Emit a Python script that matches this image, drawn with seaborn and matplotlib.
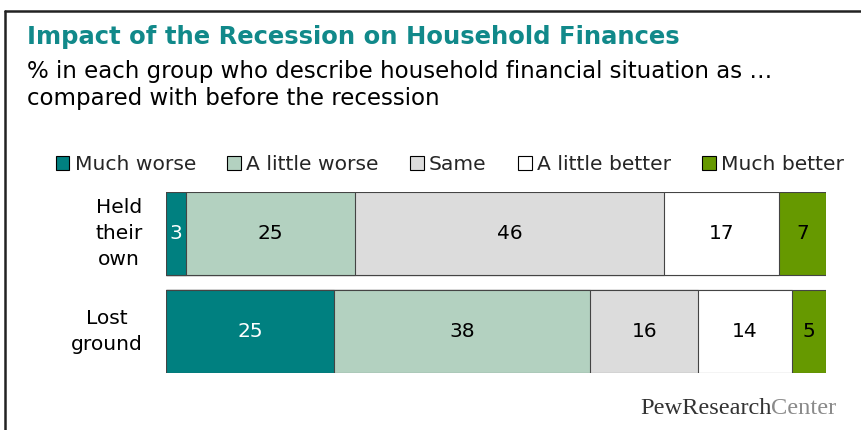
import matplotlib
matplotlib.use("Agg")
import matplotlib.pyplot as plt
from matplotlib.patches import Patch
from matplotlib.lines import Line2D
import seaborn as sns
import pandas as pd
import numpy as np

# Survey results (% of each group)
groups = ["Held\ntheir\nown", "Lost\nground"]
categories = ["Much worse", "A little worse", "Same", "A little better", "Much better"]
held_their_own = [3, 25, 46, 17, 7]
lost_ground = [25, 38, 16, 14, 5]
colors = ["#008080", "#B3D1C0", "#DCDCDC", "#FFFFFF", "#669900"]
label_colors = ["white", "black", "black", "black", "black"]

sns.set_theme(style="white")
plt.rcParams["font.family"] = ["DejaVu Sans"]

W, H = 862, 430
fig = plt.figure(figsize=(W / 100, H / 100), dpi=100)
ax = fig.add_axes([166 / W, 1 - 373 / H, 660 / W, 181 / H])

values = np.array([held_their_own, lost_ground])
cum = values.cumsum(axis=1)

# Stacked bars: draw cumulative totals from the longest down so each segment shows
for i in reversed(range(len(categories))):
    df = pd.DataFrame({"group": groups, "value": cum[:, i]})
    sns.barplot(data=df, x="value", y="group", orient="h", color=colors[i],
                saturation=1, width=0.84, edgecolor="#444444", linewidth=0.8,
                ax=ax)

for g in range(len(groups)):
    for i in range(len(categories)):
        start = cum[g, i] - values[g, i]
        ax.text(start + values[g, i] / 2, g, str(values[g, i]),
                ha="center", va="center", fontsize=14.5,
                color=label_colors[i])

ax.set_xlim(0, cum[0, -1])
ax.set_ylim(1.42, -0.42)
ax.set_xlabel("")
ax.set_ylabel("")
ax.set_xticks([])
ax.set_yticks(range(len(groups)))
ax.set_yticklabels([])
ax.tick_params(axis="y", length=0)
for s in ax.spines.values():
    s.set_visible(False)

# Group labels, centred line by line, right edge just left of the bars
for g, name in enumerate(groups):
    ax.text(-23 / 660, g, name, transform=ax.get_yaxis_transform(),
            ha="right", va="center", multialignment="center",
            fontsize=14.6, linespacing=1.45, color="black")

# Legend
handles = [Patch(facecolor=c, edgecolor="black", linewidth=0.8) for c in colors]
fig.legend(handles, categories, loc="center", bbox_to_anchor=(450 / W, 1 - 165 / H),
           ncol=5, frameon=False, fontsize=14.6, handlelength=0.68, handleheight=0.68,
           handletextpad=0.25, columnspacing=1.55, borderaxespad=0, borderpad=0)

# Titles
fig.text(27 / W, 1 - 44 / H, "Impact of the Recession on Household Finances",
         fontsize=17.5, fontweight="bold", color="#11898A", va="baseline")
fig.text(27 / W, 1 - 78 / H,
         "% in each group who describe household financial situation as …",
         fontsize=16.5, color="black", va="baseline")
fig.text(27 / W, 1 - 105 / H, "compared with before the recession",
         fontsize=16.5, color="black", va="baseline")

# Branding
t = fig.text(640 / W, 1 - 414 / H, "PewResearch", fontsize=17.6,
             family="Liberation Serif", color="#333333", va="baseline")
ax.annotate("Center", xy=(1, 0), xycoords=t, fontsize=17.6,
            family="Liberation Serif", color="#8A8A8A", va="bottom", ha="left",
            annotation_clip=False)

# Frame
fig.add_artist(Line2D([5 / W, 1], [1 - 11 / H, 1 - 11 / H], color="#222222", lw=1.8))
fig.add_artist(Line2D([5 / W, 5 / W], [0, 1 - 11 / H], color="#222222", lw=1.8))

fig.savefig("out.png", dpi=100)
